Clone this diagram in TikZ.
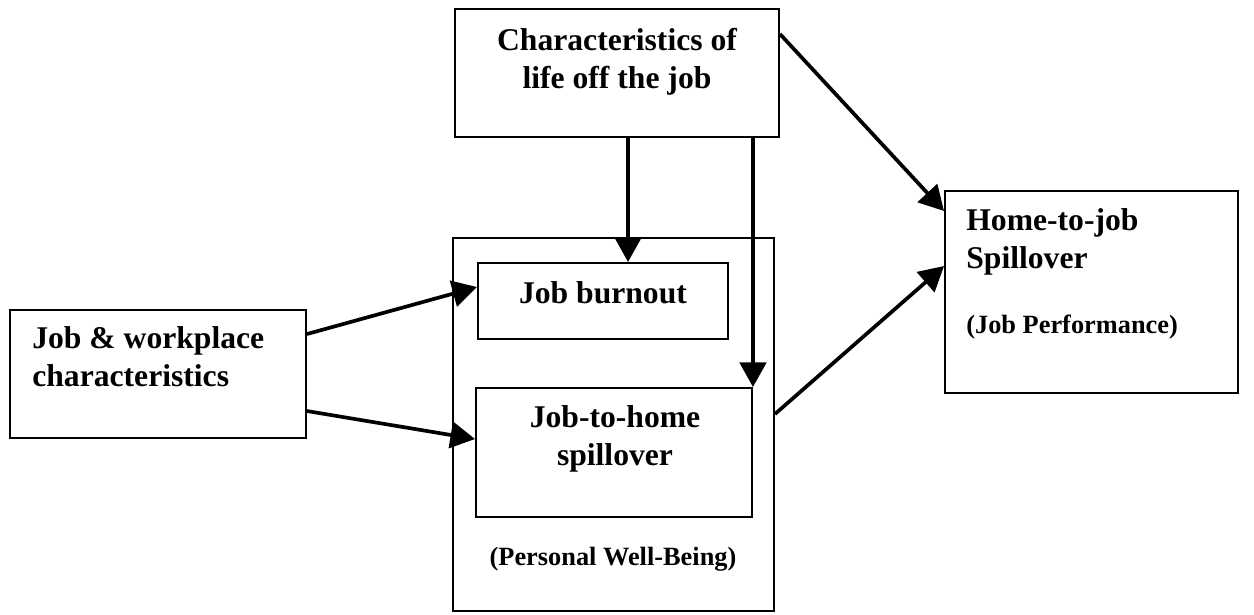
\documentclass[tikz,border=0pt]{standalone}
\usepackage{fontspec}
\setmainfont{Liberation Serif}
\usetikzlibrary{calc}
\usetikzlibrary{positioning}
\usetikzlibrary{fit}
\usetikzlibrary{arrows.meta}

\begin{document}
\begin{tikzpicture}[x=0.02cm,y=-0.02cm,
    box/.style={draw,line width=1.1pt,inner sep=0pt},
    conn/.style={line width=2.1pt,-{Triangle[length=14pt,width=15pt]}},
    heading/.style={font=\fontsize{18}{21.5}\selectfont\bfseries,inner sep=0pt},
    note/.style={font=\fontsize{15}{17}\selectfont\bfseries,inner sep=0pt}]
      \useasboundingbox (0,0) rectangle (1254,615);

      % boxes
      \node[box,fit={(455,9) (779,137)}] (char) {};
      \node[box,fit={(10,310) (306,438)}] (job) {};
      \node[box,fit={(453,238) (774,611)}] (wb) {};
      \node[box,fit={(478,263) (728,339)}] (burn) {};
      \node[box,fit={(476,388) (752,517)}] (spill) {};
      \node[box,fit={(945,191) (1238,393)}] (home) {};

      % texts
      \node[heading,align=center,anchor=north] (chartxt) at (617,28) {Characteristics of\\life off the job};
      \node[heading,align=left,anchor=north west] (jobtxt) at (32,326) {Job \& workplace\\characteristics};
      \node[heading,anchor=base] (burntxt) at (603,303) {Job burnout};
      \node[heading,align=center,anchor=north] (spilltxt) at (615,405) {Job-to-home\\spillover};
      \node[note,anchor=base] (wbtxt) at (613,565) {(Personal Well-Being)};
      \node[heading,align=left,anchor=north west] (hometxt) at (966,208) {Home-to-job\\Spillover};
      \node[note,anchor=base west] (hometxtb) at (966,333) {(Job Performance)};

      % connectors
      \draw[conn] ($(char.south west)+(174,0)$) -- ($(burn.north west)+(151,0)$);
      \draw[conn] (char.south -| spill.north east) -- (spill.north east);
      \draw[conn] ($(char.north east)+(0,26)$) -- ($(home.north west)+(0,21)$);
      \draw[conn] ($(wb.north east)+(0,177)$) -- ($(home.north west)+(0,76)$);
      \draw[conn] ($(job.north east)+(0,25)$) -- ($(burn.north west)+(0,25)$);
      \draw[conn] ($(job.north east)+(0,102)$) -- ($(spill.north west)+(0,52)$);
\end{tikzpicture}
\end{document}
